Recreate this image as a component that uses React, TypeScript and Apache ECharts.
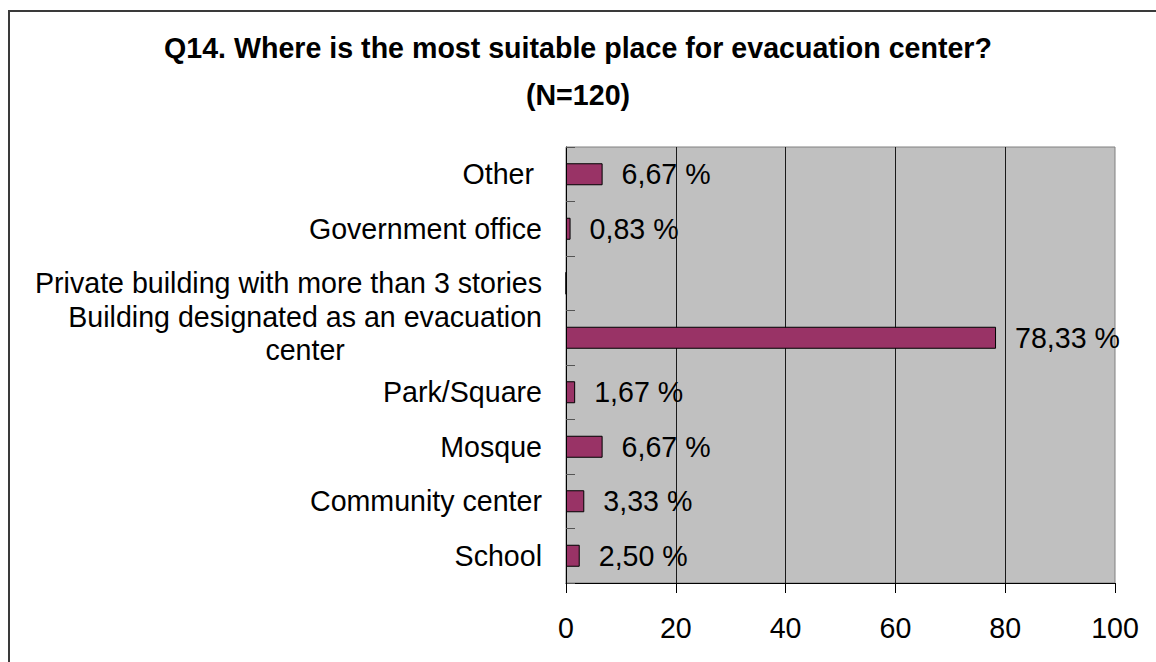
import React, { useEffect, useRef } from "react";
import * as echarts from "echarts";

// Survey answers (percent of N=120), listed bottom to top as drawn on the axis
const categories = [
  "School",
  "Community center",
  "Mosque",
  "Park/Square",
  "Building designated as an evacuation center",
  "Private building with more than 3 stories",
  "Government office",
  "Other",
];
const shares = [2.5, 3.33, 6.67, 1.67, 78.33, 0, 0.83, 6.67];

const titleLines = ["Q14. Where is the most suitable place for evacuation center?", "(N=120)"];

// the long category label is broken into two centred lines
const wrappedLabel = "Building designated as an evacuation center";
const wrappedLines = ["Building designated as an evacuation", "center"];

const FONT = "'Liberation Sans', Arial, Helvetica, sans-serif";
const FONT_SIZE = 28.6;
const BAR_COLOR = "#993366";
const PLOT_BG = "#C0C0C0";

const fmtPercent = (v: number) => v.toFixed(2).replace(".", ",") + " %";

function measure(text: string): number {
  const ctx = document.createElement("canvas").getContext("2d");
  if (!ctx) return text.length * FONT_SIZE * 0.5;
  ctx.font = `${FONT_SIZE}px ${FONT}`;
  return ctx.measureText(text).width;
}

export default function App() {
  const ref = useRef<HTMLDivElement>(null);

  useEffect(() => {
    if (!ref.current) return;
    const chart = echarts.init(ref.current, undefined, { renderer: "svg" });

    const w1 = measure(wrappedLines[0]);
    const w2 = measure(wrappedLines[1]);
    const centrePad = Math.max(0, (w1 - w2) / 2);

    const baseText = { fontFamily: FONT, fontSize: FONT_SIZE, color: "#000" };

    chart.setOption({
      animation: false,
      backgroundColor: "#ffffff",
      title: {
        text: titleLines.join("\n"),
        left: "center",
        top: 24,
        padding: 0,
        textStyle: {
          ...baseText,
          fontWeight: "bold",
          lineHeight: 47,
        },
      },
      graphic: [
        {
          type: "rect",
          silent: true,
          z: -10,
          shape: { x: 9, y: 11, width: 1400, height: 900 },
          style: { fill: "none", stroke: "#3a3a3a", lineWidth: 2 },
        },
      ],
      grid: {
        left: 566,
        right: 41,
        top: 147,
        bottom: 79,
        show: true,
        backgroundColor: PLOT_BG,
        borderColor: "#808080",
        borderWidth: 1,
      },
      xAxis: {
        type: "value",
        min: 0,
        max: 100,
        interval: 20,
        axisLine: { show: true, lineStyle: { color: "#000", width: 1 } },
        axisTick: { show: true, length: 10, lineStyle: { color: "#000" } },
        axisLabel: { margin: 30, ...baseText },
        splitLine: {
          show: true,
          showMinLine: false,
          showMaxLine: false,
          lineStyle: { color: "#1a1a1a", width: 1 },
        },
      },
      yAxis: {
        type: "category",
        data: categories,
        axisLine: { show: true, lineStyle: { color: "#000", width: 1 } },
        axisTick: {
          show: true,
          inside: true,
          length: 9,
          lineStyle: { color: "#555" },
        },
        axisLabel: {
          margin: 24,
          ...baseText,
          formatter: (v: string) => {
            if (v === wrappedLabel) {
              return `{c|${wrappedLines[0]}}\n{d|${wrappedLines[1]}}`;
            }
            if (v === "Other") return "{o|Other}";
            return v;
          },
          rich: {
            c: { ...baseText, lineHeight: 24 },
            d: { ...baseText, lineHeight: 42, padding: [0, centrePad, 0, 0] },
            o: { ...baseText, padding: [0, 8, 0, 0] },
          },
        },
        splitLine: { show: false },
      },
      series: [
        {
          type: "bar",
          data: shares,
          barWidth: 22,
          itemStyle: {
            color: BAR_COLOR,
            borderColor: "#000",
            borderWidth: 1,
          },
          label: {
            show: true,
            position: "right",
            distance: 19,
            ...baseText,
            formatter: (p: any) => (p.value > 0 ? fmtPercent(p.value) : ""),
          },
        },
      ],
    });

    return () => chart.dispose();
  }, []);

  return (
    <div
      ref={ref}
      style={{ position: "fixed", left: 0, top: 0, width: 1156, height: 662 }}
    />
  );
}
